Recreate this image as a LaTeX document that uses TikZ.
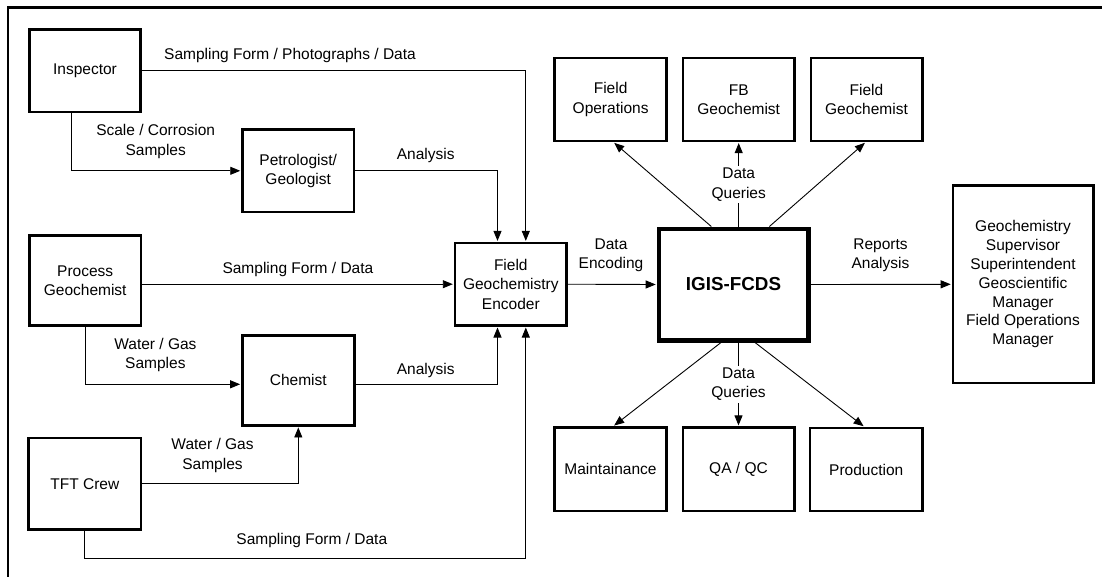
\documentclass[tikz,border=0pt]{standalone}
\usepackage{fontspec}
\setmainfont{Liberation Sans}
\usetikzlibrary{arrows.meta}
\newcommand\lblfont{\fontsize{15.5}{19.5}\selectfont}
\begin{document}
\begin{tikzpicture}[x=1pt,y=-1pt,
  box/.style={draw, line width=2.6pt, rectangle, align=center, inner sep=0pt, font=\lblfont},
  lbl/.style={align=center, inner sep=1pt, font=\lblfont},
  qlbl/.style={align=center, inner sep=2pt, font=\lblfont, fill=white},
  conn/.style={line width=0.9pt},
  arr/.style={line width=0.9pt, -{Triangle[length=10pt,width=8pt]}, shorten >=0.8pt}]
\useasboundingbox (0,0) rectangle (1102,576);
% frame (cropped on right and bottom)
\draw[line width=2.3pt] (8,580) -- (8,7.5) -- (1106,7.5);

% left column
\node[box, minimum width=111.4pt, minimum height=82.4pt] (ins) at (85,70.8) {Inspector};
\node[box, minimum width=111.7pt, minimum height=82.4pt] (pet) at (298.2,170.8) {Petrologist/\\Geologist};
\node[box, minimum width=111.4pt, minimum height=89.8pt] (pg) at (85.2,280.5) {Process\\Geochemist};
\node[box, minimum width=112.1pt, minimum height=90.1pt] (chem) at (298.3,380.3) {Chemist};
\node[box, minimum width=112.4pt, minimum height=91.4pt] (tft) at (84.8,483.7) {TFT Crew};
\node[box, minimum width=111.8pt, minimum height=82.4pt] (enc) at (510.8,284.2) {Field\\Geochemistry\\Encoder};

% centre
\node[draw, line width=4.5pt, rectangle, inner sep=0pt, minimum width=149.5pt, minimum height=111.5pt,
      font=\bfseries\fontsize{18.8}{22}\selectfont] (igis) at (733.5,284.5) {IGIS-FCDS};

% top row
\node[box, minimum width=112.1pt, minimum height=83pt] (fo) at (610.6,99.5) {Field\\Operations};
\node[box, minimum width=111.7pt, minimum height=83pt] (fbg) at (738.7,99.5) {FB\\Geochemist};
\node[box, minimum width=111.4pt, minimum height=83pt] (fg) at (866.5,99.5) {Field\\Geochemist};

% bottom row
\node[box, minimum width=111.7pt, minimum height=83.7pt] (mnt) at (610.5,469.2) {Maintainance};
\node[box, minimum width=111.4pt, minimum height=83.4pt] (qa) at (738.5,469.2) {QA / QC};
\node[box, minimum width=112.1pt, minimum height=83pt] (prod) at (866.2,469.5) {Production};

% right box
\node[box, minimum width=140.4pt, minimum height=197.4pt, font=\fontsize{15.5}{18.8}\selectfont] (gs) at (1023,284.3)
  {Geochemistry\\Supervisor\\Superintendent\\Geoscientific\\Manager\\Field Operations\\Manager};

% labels
\node[lbl] (l1) at (290,55.7) {Sampling Form / Photographs / Data};
\node[lbl] (l2) at (155.7,141.7) {Scale / Corrosion\\Samples};
\node[lbl] (l3) at (425.7,155.7) {Analysis};
\node[lbl] (l4) at (297.9,269.3) {Sampling Form / Data};
\node[lbl] (l5) at (155.4,355) {Water / Gas\\Samples};
\node[lbl] (l6) at (425.7,370) {Analysis};
\node[lbl] (l7) at (212.5,455.3) {Water / Gas\\Samples};
\node[lbl] (l8) at (311.8,540.7) {Sampling Form / Data};
\node[lbl] (l9) at (611,255.3) {Data\\Encoding};
\node[lbl] (l10) at (880.5,255.3) {Reports\\Analysis};

% connectors into the encoder
\draw[arr] (ins.east) -| ([xshift=15pt]enc.north);
\draw[arr] ([xshift=-13.6pt]ins.south) |- (pet.west);
\draw[arr] (pet.east) -| ([xshift=-13.3pt]enc.north);
\draw[arr] (pg.east |- enc.west) -- (enc.west);
\draw[arr] (pg.south) |- ([yshift=-4pt]chem.west);
\draw[arr] ([yshift=-4pt]chem.east) -| ([xshift=-13.3pt]enc.south);
\draw[arr] (tft.east) -| (chem.south);
\draw[arr] (tft.south) -- ([yshift=-27.6pt]tft.south) -| ([xshift=15pt]enc.south);

% encoder -> IGIS -> reports
\draw[arr] (enc.east) -- (igis.west);
\draw[arr] (igis.east) -- (gs.west);

% data queries up
\draw[arr] ([xshift=-22.2pt]igis.north) -- ([xshift=3pt]fo.south);
\draw[arr] (fbg.south |- igis.north) -- node[qlbl, pos=0.5] (q1) {Data\\Queries} (fbg.south);
\draw[arr] ([xshift=35.9pt]igis.north) -- ([xshift=-1pt]fg.south);

% data queries down
\draw[arr] ([xshift=-12.5pt]igis.south) -- ([xshift=3pt]mnt.north);
\draw[arr] (qa.north |- igis.south) -- node[qlbl, pos=0.5] (q2) {Data\\Queries} (qa.north);
\draw[arr] ([xshift=21.5pt]igis.south) -- ([xshift=-2pt]prod.north);
\end{tikzpicture}
\end{document}
